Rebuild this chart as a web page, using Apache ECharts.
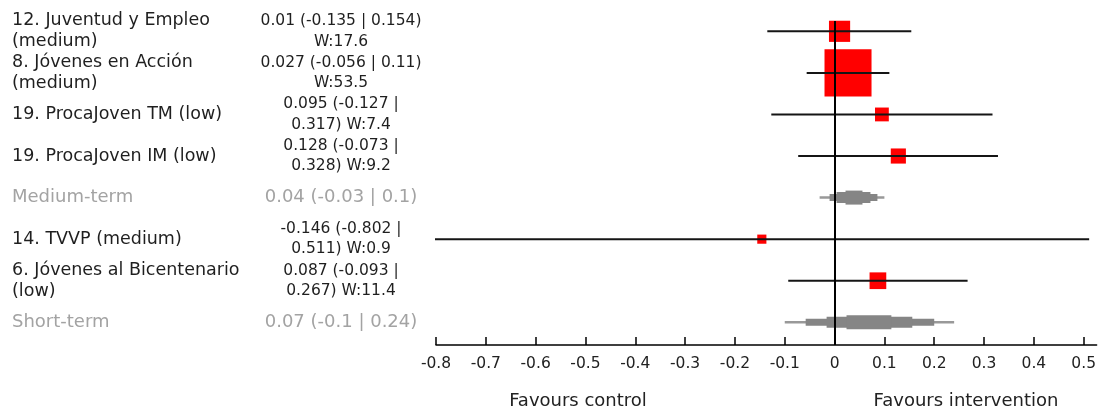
<!DOCTYPE html>
<html>
<head>
<meta charset="utf-8">
<script src="https://cdn.jsdelivr.net/npm/echarts@6/dist/echarts.min.js"></script>
<style>
    html, body { margin: 0; padding: 0; background: #fff; }
    #chart { width: 1099px; height: 414px; }
</style>
</head>
<body>
<div id="chart"></div>
<script>
const studyNames = [
    '12. Juventud y Empleo (medium)',
    '8. Jóvenes en Acción (medium)',
    '19. ProcaJoven TM (low)',
    '19. ProcaJoven IM (low)',
    'Medium-term',
    '14. TVVP (medium)',
    '6. Jóvenes al Bicentenario (low)',
    'Short-term'
]
const estimates = [0.01, 0.027, 0.095, 0.128, 0.04, -0.146, 0.087, 0.07]
const lowerCI = [-0.135, -0.056, -0.127, -0.073, -0.03, -0.802, -0.093, -0.1]
const upperCI = [0.154, 0.11, 0.317, 0.328, 0.1, 0.511, 0.267, 0.24]
// null weight = pooled (summary) row
const weights = [17.6, 53.5, 7.4, 9.2, null, 0.9, 11.4, null]

// nested intervals of the pooled estimates, outermost first
const mediumTermBands = [[-0.03, 0.1], [-0.01, 0.086], [0.004, 0.072], [0.022, 0.056]]
const shortTermBands = [[-0.1, 0.24], [-0.058, 0.2], [-0.016, 0.156], [0.024, 0.114]]

const tickValues = [-0.8, -0.7, -0.6, -0.5, -0.4, -0.3, -0.2, -0.1, 0, 0.1, 0.2, 0.3, 0.4, 0.5]
const rowIndex = studyNames.map((n, i) => i)

const FONT = 'DejaVu Sans'
const NAME_SIZE = 17.5
const VALUE_SIZE = 15.5
const SUMMARY_SIZE = 18

const measureCtx = document.createElement('canvas').getContext('2d')

// word wrap like the original table cells
function wrapText(text, fontSize, maxWidth) {
    measureCtx.font = `${fontSize}px "${FONT}"`
    let words = text.split(' ')
    let lines = []
    let cur = ''
    words.forEach(w => {
        let tryLine = cur ? cur + ' ' + w : w
        if (cur && measureCtx.measureText(tryLine).width > maxWidth) {
            lines.push(cur)
            cur = w
        } else {
            cur = tryLine
        }
    })
    lines.push(cur)
    return lines.join('\n')
}

function valueText(i) {
    let txt = `${estimates[i]} (${lowerCI[i]} | ${upperCI[i]})`
    if (weights[i] != null) {
        txt += ` W:${weights[i]}`
    }
    return txt
}

function squareSize(weight) {
    return 8.5 + 0.72 * weight
}

function buildData() {
    let squares = []
    let ciLines = []
    for (let i = 0; i < studyNames.length; i++) {
        if (weights[i] == null) continue
        squares.push([estimates[i], i, weights[i]])
        ciLines.push([lowerCI[i], upperCI[i], i])
    }
    let bands = []
    let summaryRows = [[studyNames.indexOf('Medium-term'), mediumTermBands], [studyNames.indexOf('Short-term'), shortTermBands]]
    summaryRows.forEach(([row, list]) => {
        list.forEach((b, level) => bands.push([b[0], b[1], row, level]))
    })
    return { squares, ciLines, bands }
}

function renderCI(params, api) {
    let start = api.coord([api.value(0), api.value(2)])
    let end = api.coord([api.value(1), api.value(2)])
    return {
        type: 'line',
        shape: { x1: start[0], y1: start[1], x2: end[0], y2: end[1] },
        style: { stroke: '#151515', lineWidth: 2 }
    }
}

const bandHeights = [2.5, 7, 11, 14]

function renderBand(params, api) {
    let start = api.coord([api.value(0), api.value(2)])
    let end = api.coord([api.value(1), api.value(2)])
    let h = bandHeights[api.value(3)]
    return {
        type: 'rect',
        shape: { x: start[0], y: start[1] - h / 2, width: end[0] - start[0], height: h },
        style: { fill: api.value(3) == 0 ? '#999999' : '#858585' }
    }
}

function chart() {
    var dom = document.getElementById('chart')
    var myChart = echarts.init(dom, null, { renderer: 'canvas' })
    const d = buildData()

    const yBase = {
        type: 'value',
        inverse: true,
        min: -0.248,
        max: 7.546,
        position: 'left',
        axisLine: { show: false },
        axisTick: { show: false },
        splitLine: { show: false }
    }

    var option = {
        animation: false,
        backgroundColor: '#fff',
        grid: { left: 436, right: 0, top: 21, bottom: 69 },
        xAxis: {
            type: 'value',
            position: 'bottom',
            min: -0.8,
            max: 0.526,
            splitLine: { show: false },
            axisLine: { show: true, onZero: false, lineStyle: { color: '#000', width: 1.5 } },
            axisTick: { show: true, inside: true, length: 8, customValues: tickValues, lineStyle: { color: '#000', width: 1.5 } },
            axisLabel: {
                customValues: tickValues,
                margin: 11,
                fontFamily: FONT,
                fontSize: 15.5,
                color: '#222',
                formatter: v => String(v)
            }
        },
        yAxis: [
            Object.assign({}, yBase, {
                axisLabel: {
                    customValues: rowIndex,
                    align: 'left',
                    margin: 424,
                    formatter: v => {
                        let i = Math.round(v)
                        if (weights[i] == null) return `{s|${studyNames[i]}}`
                        return `{n|${wrapText(studyNames[i], NAME_SIZE, 250)}}`
                    },
                    rich: {
                        n: { fontFamily: FONT, fontSize: NAME_SIZE, lineHeight: 21, color: '#1f1f1f' },
                        s: { fontFamily: FONT, fontSize: SUMMARY_SIZE, lineHeight: 21, color: '#a3a3a3' }
                    }
                }
            }),
            Object.assign({}, yBase, {
                axisLabel: {
                    customValues: rowIndex,
                    align: 'center',
                    margin: 95,
                    formatter: v => {
                        let i = Math.round(v)
                        if (weights[i] == null) return `{s|${valueText(i)}}`
                        return `{n|${wrapText(valueText(i), VALUE_SIZE, 166)}}`
                    },
                    rich: {
                        n: { fontFamily: FONT, fontSize: VALUE_SIZE, lineHeight: 20.5, color: '#1f1f1f', align: 'center' },
                        s: { fontFamily: FONT, fontSize: SUMMARY_SIZE, lineHeight: 21, color: '#a3a3a3', align: 'center' }
                    }
                }
            })
        ],
        series: [
            {
                name: 'weight',
                type: 'scatter',
                z: 1,
                symbol: 'rect',
                symbolSize: val => squareSize(val[2]),
                itemStyle: { color: '#ff0000', opacity: 1 },
                data: d.squares
            },
            {
                name: 'pooled',
                type: 'custom',
                z: 2,
                renderItem: renderBand,
                data: d.bands
            },
            {
                name: 'ci',
                type: 'custom',
                z: 3,
                renderItem: renderCI,
                data: d.ciLines,
                markLine: {
                    silent: true,
                    symbol: 'none',
                    label: { show: false },
                    lineStyle: { color: '#000', width: 2, type: 'solid' },
                    data: [{ xAxis: 0 }]
                }
            }
        ],
        graphic: [
            {
                type: 'text', x: 578, y: 401,
                style: { text: 'Favours control', fontFamily: FONT, fontSize: 18, fill: '#222', textAlign: 'center', textVerticalAlign: 'middle' }
            },
            {
                type: 'text', x: 966, y: 401,
                style: { text: 'Favours intervention', fontFamily: FONT, fontSize: 18, fill: '#222', textAlign: 'center', textVerticalAlign: 'middle' }
            }
        ]
    }

    option && myChart.setOption(option)
    window.addEventListener('resize', myChart.resize)
}

chart()
</script>
</body>
</html>
